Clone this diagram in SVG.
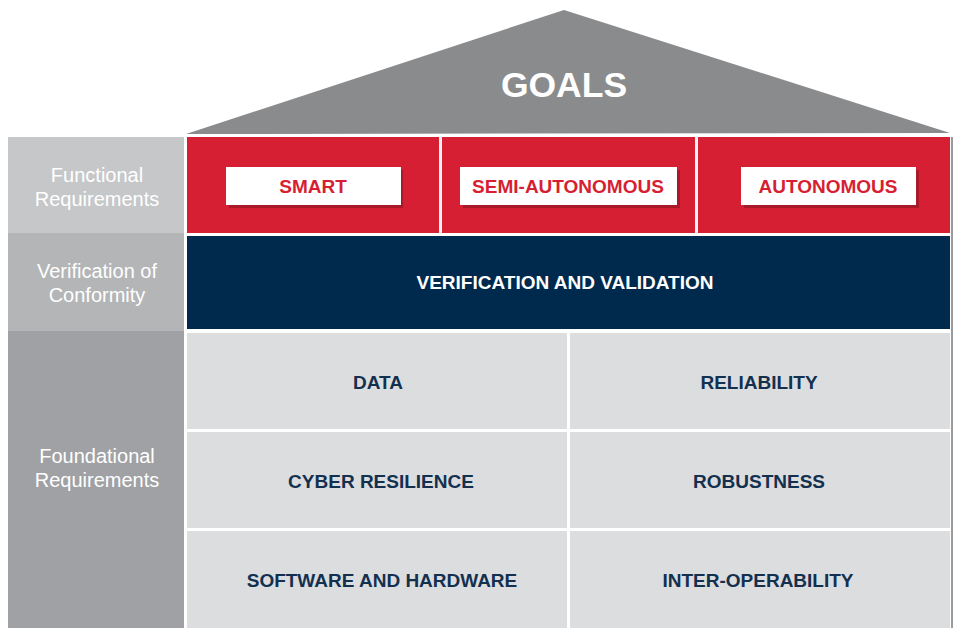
<svg xmlns="http://www.w3.org/2000/svg" width="955" height="628" viewBox="0 0 955 628">
<style>
.side{font-family:"Liberation Sans",Arial,sans-serif;font-size:20px;fill:#ffffff;text-anchor:middle}
.cell{fill:#dcdddf}
.ct{font-family:"Liberation Sans",Arial,sans-serif;font-size:19px;font-weight:bold;fill:#13304f;text-anchor:middle}
.rt{font-family:"Liberation Sans",Arial,sans-serif;font-size:19px;font-weight:bold;fill:#d71f33;text-anchor:middle}
.box{fill:#ffffff}
.shadow{fill:#a8192a}
</style>
<rect width="955" height="628" fill="#ffffff"/>
<g id="roof">
<polygon points="186,134 564,10 950,133" fill="#8a8b8d"/>
<text x="564" y="97" font-family="Liberation Sans,Arial,sans-serif" font-size="35.5" font-weight="bold" fill="#ffffff" text-anchor="middle">GOALS</text>
</g>
<g id="label-functional">
<rect x="8" y="137" width="176" height="96" fill="#c6c7c9"/>
<text class="side" x="97" y="182">Functional</text>
<text class="side" x="97" y="206">Requirements</text>
</g>
<g id="label-verification">
<rect x="8" y="233" width="176" height="98" fill="#b4b5b7"/>
<text class="side" x="97" y="278">Verification of</text>
<text class="side" x="97" y="302">Conformity</text>
</g>
<g id="label-foundational">
<rect x="8" y="331" width="176" height="297" fill="#a0a1a4"/>
<text class="side" x="97" y="463">Foundational</text>
<text class="side" x="97" y="487">Requirements</text>
</g>
<g id="functional-band">
<rect x="187" y="137" width="763" height="96" fill="#d71f33"/>
<rect x="439" y="137" width="3" height="96" fill="#f2f2f2"/>
<rect x="695" y="137" width="3" height="96" fill="#f2f2f2"/>
</g>
<g id="smart">
<rect class="shadow" x="229" y="170" width="174" height="38"/>
<rect class="box" x="226" y="167" width="175" height="38"/>
<text class="rt" x="313" y="193">SMART</text>
</g>
<g id="semi-autonomous">
<rect class="shadow" x="463" y="170" width="217" height="38"/>
<rect class="box" x="460" y="167" width="217" height="38"/>
<text class="rt" x="568" y="193">SEMI-AUTONOMOUS</text>
</g>
<g id="autonomous">
<rect class="shadow" x="744" y="170" width="175" height="38"/>
<rect class="box" x="741" y="167" width="175" height="38"/>
<text class="rt" x="828" y="193">AUTONOMOUS</text>
</g>
<g id="verification">
<rect x="187" y="236" width="763" height="93" fill="#002a4d"/>
<text x="565" y="289" font-family="Liberation Sans,Arial,sans-serif" font-size="19" font-weight="bold" fill="#ffffff" text-anchor="middle">VERIFICATION AND VALIDATION</text>
</g>
<g id="data">
<rect class="cell" x="187" y="333" width="380" height="96"/>
<text class="ct" x="378" y="389">DATA</text>
</g>
<g id="reliability">
<rect class="cell" x="570" y="333" width="380" height="96"/>
<text class="ct" x="759" y="389">RELIABILITY</text>
</g>
<g id="cyber-resilience">
<rect class="cell" x="187" y="432" width="380" height="96"/>
<text class="ct" x="381" y="488">CYBER RESILIENCE</text>
</g>
<g id="robustness">
<rect class="cell" x="570" y="432" width="380" height="96"/>
<text class="ct" x="759" y="488">ROBUSTNESS</text>
</g>
<g id="software-hardware">
<rect class="cell" x="187" y="531" width="380" height="97"/>
<text class="ct" x="382" y="587">SOFTWARE AND HARDWARE</text>
</g>
<g id="inter-operability">
<rect class="cell" x="570" y="531" width="380" height="97"/>
<text class="ct" x="758" y="587">INTER-OPERABILITY</text>
</g>
<g id="connectors">
<rect x="951" y="137" width="2" height="491" fill="#9a9b9d"/>
</g>
</svg>
